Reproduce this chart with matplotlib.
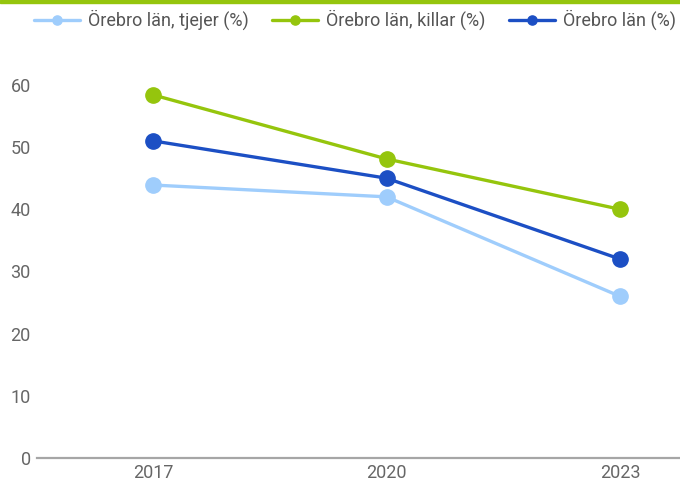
import matplotlib.pyplot as plt
from matplotlib.patches import Rectangle

plt.rcParams['font.family'] = ['Roboto', 'DejaVu Sans']

years = ['2017', '2020', '2023']
tjejer = [43.9, 42.0, 26.0]
killar = [58.4, 48.1, 40.0]
totalt = [51.0, 45.0, 32.0]

labels = ['Örebro län, tjejer (%)', 'Örebro län, killar (%)', 'Örebro län (%)']
colors = ['#9fcdfc', '#95c50d', '#1c4fc4']

fig = plt.figure(figsize=(6.8, 4.83), dpi=100)
ax = fig.add_axes([37 / 680, 25 / 483, 643 / 680, 388 / 483])

x = range(len(years))
for vals, lab, col in zip([tjejer, killar, totalt], labels, colors):
    ax.plot(x, vals, color=col, lw=2.4, marker='o', markersize=11,
            label=lab, solid_capstyle='round')

ax.set_xlim(-0.497, 2.257)
ax.set_ylim(0, 62.4)
ax.set_xticks(list(x))
ax.set_xticklabels(years)
ax.set_yticks(range(0, 61, 10))

for s in ['top', 'right', 'left']:
    ax.spines[s].set_visible(False)
ax.spines['bottom'].set_color('#a6a6a6')
ax.spines['bottom'].set_linewidth(1.6)
ax.tick_params(axis='both', length=0, labelsize=13, labelcolor='#666666')
ax.tick_params(axis='y', pad=4.5)
ax.tick_params(axis='x', pad=4)

fig.legend(loc='center', bbox_to_anchor=(0.522, 0.958), ncol=3, frameon=False,
           fontsize=13, labelcolor='#555555', handlelength=2.55,
           handletextpad=0.45, columnspacing=1.3, markerscale=0.6)

# green band along the top edge
fig.patches.append(Rectangle((0, 1 - 3 / 483), 1, 3 / 483, transform=fig.transFigure,
                             color='#95c50d', zorder=5))

fig.savefig('out.png', dpi=100)
